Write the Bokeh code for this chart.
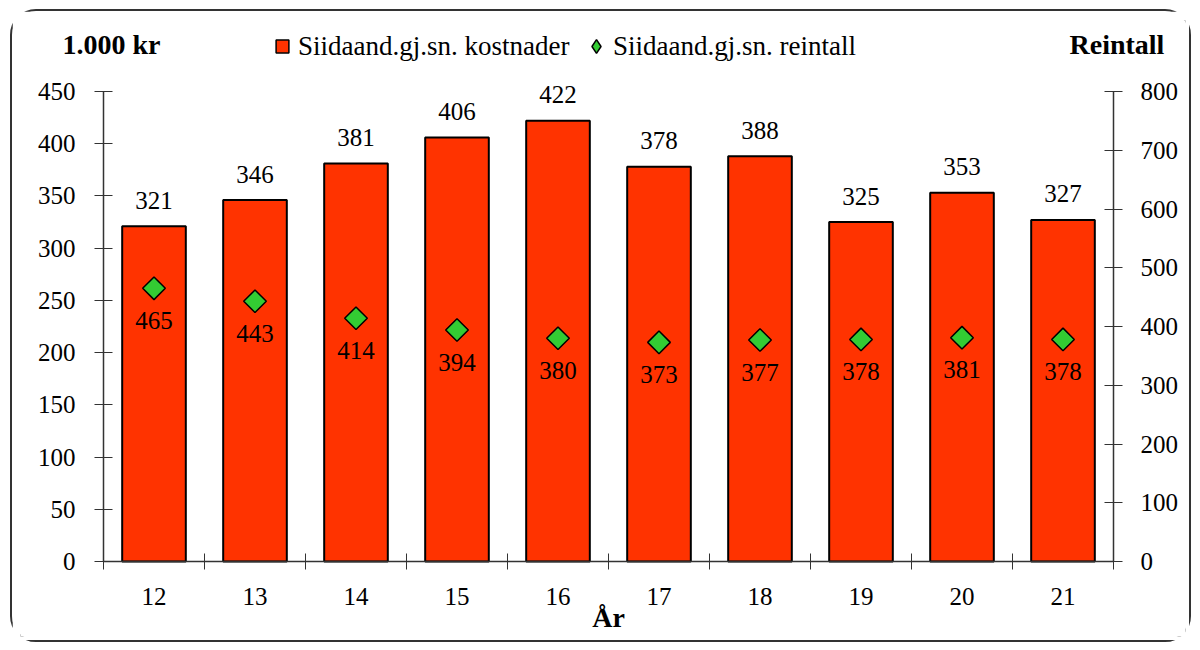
import numpy as np
from bokeh.plotting import figure
from bokeh.models import (Range1d, LinearAxis, FixedTicker, ColumnDataSource,
                          Legend, LegendItem, Label)
from bokeh.core.properties import value
from bokeh.embed import file_html
from bokeh.resources import INLINE

years = ["12", "13", "14", "15", "16", "17", "18", "19", "20", "21"]
kostnader = [321, 346, 381, 406, 422, 378, 388, 325, 353, 327]
reintall = [465, 443, 414, 394, 380, 373, 377, 378, 381, 378]

FONT = "'Liberation Serif', 'Times New Roman', 'DejaVu Serif', serif"
xs = list(range(len(years)))
n = len(years)

# ---- layout (page pixels) ----
W, H = 1181, 633           # canvas size
ORX, ORY = 12, 11          # canvas origin on page (margin + border)
FL, FR, FT, FB = 20, 1185, 20, 636   # frame edges on page
AX_L, AX_R = 103, 1113     # page x of first / last category boundary
Y0, Y450 = 561, 91         # page y of value 0 and 450 on left axis

cat_px = (AX_R - AX_L) / n
px_per_unit_l = (Y0 - Y450) / 450.0
px_per_unit_r = (Y0 - Y450) / 800.0
x0 = -0.5 - (AX_L - FL) / cat_px
x1 = x0 + (FR - FL) / cat_px
yl0, yl1 = -(FB - Y0) / px_per_unit_l, (Y0 - FT) / px_per_unit_l
yr0, yr1 = -(FB - Y0) / px_per_unit_r, (Y0 - FT) / px_per_unit_r

src = ColumnDataSource(dict(
    x=xs, k=kostnader, r=reintall,
    kl=[str(v) for v in kostnader], rl=[str(v) for v in reintall],
))

p = figure(width=W, height=H, output_backend="svg", toolbar_location=None,
           x_range=Range1d(x0, x1), y_range=Range1d(yl0, yl1),
           min_border_left=FL - ORX, min_border_right=W - (FR - ORX),
           min_border_top=FT - ORY, min_border_bottom=H - (FB - ORY))
p.styles = {"border": "2px solid #333333", "border-radius": "26px",
            "margin-left": "10px", "margin-top": "9px"}
p.outline_line_color = None
p.xgrid.visible = False
p.ygrid.visible = False
p.extra_y_ranges = {"r": Range1d(yr0, yr1)}

def style_axis(ax, standoff):
    ax.major_label_standoff = standoff
    ax.major_label_text_font = FONT
    ax.major_label_text_font_size = "25px"
    ax.major_label_text_color = "black"
    ax.axis_line_color = "#333333"
    ax.major_tick_line_color = "#333333"
    ax.minor_tick_line_color = "#333333"
    ax.axis_line_width = 1.5

# left axis
yl = p.yaxis[0]
yl.ticker = FixedTicker(ticks=list(range(0, 451, 50)), minor_ticks=[])
yl.bounds = (0, 450)
yl.fixed_location = -0.5
yl.major_tick_in = 9
yl.major_tick_out = 9
yl.minor_tick_in = 0
yl.minor_tick_out = 0
style_axis(yl, 19)

# right axis
yr = LinearAxis(y_range_name="r")
yr.ticker = FixedTicker(ticks=list(range(0, 801, 100)), minor_ticks=[])
yr.bounds = (0, 800)
yr.fixed_location = n - 0.5
yr.major_tick_in = 9
yr.major_tick_out = 9
yr.minor_tick_in = 0
yr.minor_tick_out = 0
style_axis(yr, 18)
p.add_layout(yr, "right")

# x axis: labels at centres, ticks at category boundaries (minor ticks)
xa = p.xaxis[0]
xa.ticker = FixedTicker(ticks=xs, minor_ticks=[i - 0.5 for i in range(n + 1)])
xa.bounds = (-0.5, n - 0.5)
xa.fixed_location = 0
xa.major_label_overrides = {i: y for i, y in enumerate(years)}
xa.major_tick_in = 0
xa.major_tick_out = 0
xa.minor_tick_in = 8
xa.minor_tick_out = 8
style_axis(xa, 18)
xa.axis_label = "År"
xa.axis_label_text_font = FONT
xa.axis_label_text_font_size = "28px"
xa.axis_label_text_font_style = "bold"
xa.axis_label_text_color = "black"
xa.axis_label_standoff = -6

bars = p.vbar(x="x", top="k", width=0.63, source=src, fill_color="#FF3300",
              line_color="black", line_width=2)
dia = p.scatter(x="x", y="r", source=src, y_range_name="r", marker="square",
                angle=np.pi / 4, size=16, fill_color="#33CC33", line_color="black",
                line_width=1.5)
# zero-size markers used only for the legend symbols
leg_sq = p.scatter(x="x", y="k", source=src, marker="square", size=0,
                   fill_color="#FF3300", line_color="black", line_width=1.5)
leg_di = p.scatter(x="x", y="r", source=src, y_range_name="r", marker="diamond",
                   size=0, fill_color="#33CC33", line_color="black", line_width=1.5)

p.text(x="x", y="k", text="kl", source=src, text_align="center",
       text_baseline="alphabetic", y_offset=-26, text_font=value(FONT),
       text_font_size="25px", text_color="black")
p.text(x="x", y="r", text="rl", source=src, y_range_name="r", text_align="center",
       text_baseline="alphabetic", y_offset=32, text_font=value(FONT),
       text_font_size="25px", text_color="black")

def make_legend(label, renderer, glyph, text_left):
    return Legend(items=[LegendItem(label=label, renderers=[renderer])],
                  orientation="horizontal",
                  location=(text_left - glyph - FL, FB - 46 - glyph / 2),
                  background_fill_alpha=0, border_line_color=None,
                  label_text_font=FONT, label_text_font_size="27px",
                  label_text_color="black", label_text_baseline="middle",
                  glyph_width=glyph, glyph_height=glyph,
                  label_height=glyph, label_standoff=0,
                  spacing=0, padding=0, margin=0)

p.add_layout(make_legend("Siidaand.gj.sn. kostnader", leg_sq, 32, 298), "center")
p.add_layout(make_legend("Siidaand.gj.sn. reintall", leg_di, 34, 613), "center")

p.add_layout(Label(x=62 - FL, y=FB - 59, x_units="screen", y_units="screen",
                   text="1.000 kr", text_font=FONT, text_font_size="28px",
                   text_font_style="bold", text_color="black"))
p.add_layout(Label(x=1069 - FL, y=FB - 59, x_units="screen", y_units="screen",
                   text="Reintall", text_font=FONT, text_font_size="28px",
                   text_font_style="bold", text_color="black"))

open("out.html", "w").write(file_html(p, INLINE))
